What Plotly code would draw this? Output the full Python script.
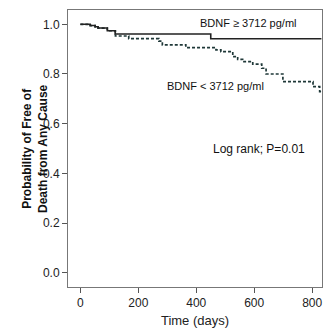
import plotly.graph_objects as go

high_days = [0, 34, 51, 61, 93, 120, 450, 832]
high_surv = [1.0, 0.995, 0.99, 0.985, 0.974, 0.961, 0.942, 0.942]

low_days = [0, 34, 51, 61, 93, 121, 167, 271, 283, 364, 468, 485, 526, 543, 560, 595, 626, 641, 699, 803, 826, 832]
low_surv = [1.0, 0.995, 0.99, 0.985, 0.974, 0.953, 0.942, 0.932, 0.917, 0.906, 0.897, 0.890, 0.870, 0.859, 0.850, 0.840, 0.823, 0.800, 0.769, 0.749, 0.729, 0.729]

x_ticks = [0, 200, 400, 600, 800]
y_ticks = [0.0, 0.2, 0.4, 0.6, 0.8, 1.0]

fig = go.Figure()
fig.add_trace(go.Scatter(x=low_days, y=low_surv, mode="lines", line_shape="hv",
                         line=dict(color="#1f3838", width=1.7, dash="3px,2px"), showlegend=False))
fig.add_trace(go.Scatter(x=high_days, y=high_surv, mode="lines", line_shape="hv",
                         line=dict(color="#222222", width=1.6), showlegend=False))

font = "Liberation Sans, Arial, sans-serif"
fig.add_annotation(x=582, y=1.007, text="BDNF ≥ 3712 pg/ml", showarrow=False,
                   font=dict(family=font, size=11, color="#111111"))
fig.add_annotation(x=468, y=0.752, text="BDNF < 3712 pg/ml", showarrow=False,
                   font=dict(family=font, size=11, color="#111111"))
fig.add_annotation(x=617, y=0.498, text="Log rank; P=0.01", showarrow=False,
                   font=dict(family=font, size=12, color="#111111"))
fig.add_annotation(xref="paper", yref="paper", x=-0.132, y=0.5, xanchor="center", yanchor="middle",
                   text="<b>Probability of Free of<br>Death from Any Cause</b>", textangle=-90,
                   showarrow=False, font=dict(family=font, size=12, color="#111111"))

fig.update_layout(
    width=324, height=334,
    margin=dict(l=68, r=2, t=10, b=47),
    paper_bgcolor="white", plot_bgcolor="white",
    font=dict(family=font, color="#222222"),
    xaxis=dict(range=[-42.7, 834], tickvals=x_ticks, ticks="outside", ticklen=5, automargin=False,
               tickcolor="#555555", linecolor="#777777", linewidth=1, mirror=True,
               showgrid=False, zeroline=False, tickfont=dict(size=12, color="#222222"),
               title=dict(text="Time (days)", font=dict(size=13, color="#222222"), standoff=6)),
    yaxis=dict(range=[-0.0576, 1.0576], tickvals=y_ticks, tickformat=".1f", ticks="outside", ticklen=5,
               automargin=False,
               tickcolor="#555555", linecolor="#777777", linewidth=1, mirror=True,
               showgrid=False, zeroline=False, tickfont=dict(size=12, color="#222222")),
)

fig.write_html("out.html", config={"displayModeBar": False},
               post_script="document.body.style.margin='0';document.body.style.overflow='hidden';")
